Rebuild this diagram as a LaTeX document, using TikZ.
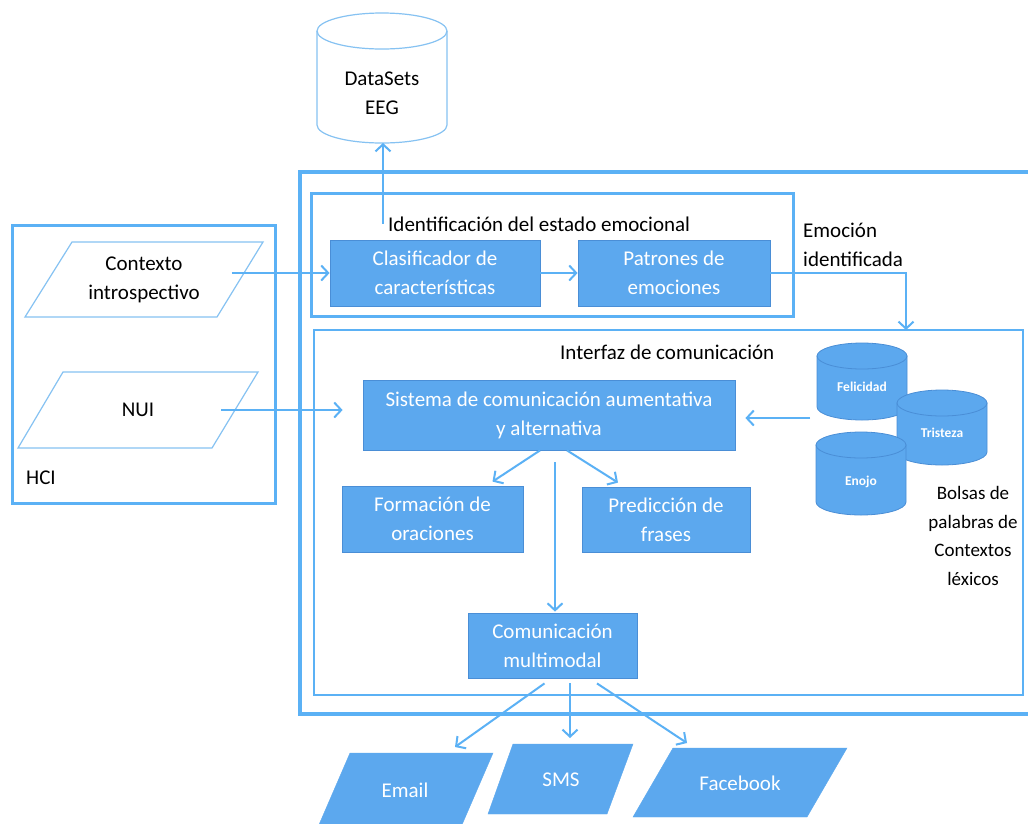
\documentclass[tikz,border=0pt]{standalone}
\usepackage{fontspec}
\setmainfont{Carlito}
\usetikzlibrary{arrows.meta}
\definecolor{azulmarco}{HTML}{5BB1F5}
\definecolor{azulcaja}{HTML}{5CA8EE}
\definecolor{azulborde}{HTML}{4A8ED6}
\definecolor{azulclaro}{HTML}{86C2F2}
\newcommand{\letra}{\fontsize{21}{29}\selectfont}
\tikzset{
  marco/.style   = {draw=azulmarco, line width=3pt},
  texto/.style   = {font=\letra, align=center, inner sep=0pt},
  caja/.style    = {draw=azulborde, fill=azulcaja, text=white, align=center,
                    inner sep=0pt, font=\letra, line width=0.8pt},
  entrada/.style = {draw=azulclaro, fill=white, line width=1.2pt},
  salida/.style  = {draw=azulcaja, fill=azulcaja},
  flecha/.style  = {-{Straight Barb[length=7pt, width=15pt]}, draw=azulmarco, line width=2pt}
}

\begin{document}
\begin{tikzpicture}[x=1pt, y=1pt]
  \fill[white] (0,0) rectangle (1028,-823);
  \useasboundingbox (0,0) rectangle (1028,-823);

  % marcos
  \draw[marco, line width=4pt] (1040,-172) -- (300,-172) -- (300,-714) -- (1040,-714);
  \draw[marco] (311,-193) rectangle (793,-316);
  \draw[marco, line width=2.2pt] (314,-330) rectangle (1023,-695);
  \draw[marco] (12,-225) rectangle (275,-503);

  \node[texto, anchor=base west] (tident) at (388,-231) {Identificación del estado emocional};
  \node[texto, anchor=base west] (tinter) at (560,-359) {Interfaz de comunicación};
  \node[texto, anchor=west, align=left] (temocion) at (803,-245) {Emoción\\identificada};
  \node[texto, anchor=west] (thci) at (26,-478) {HCI};
  \node[texto, font=\fontsize{19}{28.5}\selectfont] (tbolsas) at (973,-536) {Bolsas de\\palabras de\\Contextos\\léxicos};

  % base de datos EEG
  \draw[azulclaro, line width=1.2pt, fill=white] (317,-31) -- (317,-125)
    arc[start angle=180, end angle=360, x radius=65, y radius=18] -- (447,-31);
  \draw[azulclaro, line width=1.2pt] (382,-31) ellipse[x radius=65, y radius=18];
  \node[texto] (datos) at (382,-93) {DataSets\\EEG};
  \coordinate (datosbase) at (383,-143);

  % bolsas de palabras
  \foreach \cx/\ya/\yb/\ty/\nombre in {862/356/407/387/Felicidad, 942/403/452/433/Tristeza, 861/445/502/482/Enojo}{
    \filldraw[draw=azulborde, fill=azulcaja, line width=0.8pt] (\cx-45,-\ya) -- (\cx-45,-\yb)
      arc[start angle=180, end angle=360, x radius=45, y radius=13] -- (\cx+45,-\ya) -- cycle;
    \filldraw[draw=azulborde, fill=azulcaja, line width=0.8pt] (\cx,-\ya) ellipse[x radius=45, y radius=13];
    \node[text=white, font=\bfseries\fontsize{13.5}{16}\selectfont] (\nombre) at (\cx,-\ty) {\nombre};
  }
  \coordinate (bolsas) at (810,-418);

  % cajas
  \node[caja, minimum width=210pt, minimum height=66pt] (clasif) at (435,-273) {Clasificador de\\características};
  \node[caja, minimum width=192pt, minimum height=66pt] (patron) at (674,-273) {Patrones de\\emociones};
  \node[caja, minimum width=372pt, minimum height=70pt] (sistema) at (549,-415) {Sistema de comunicación aumentativa\\y alternativa};
  \node[caja, minimum width=181pt, minimum height=66pt] (oracion) at (432.5,-519) {Formación de\\oraciones};
  \node[caja, minimum width=168pt, minimum height=65pt] (frases) at (666,-519.5) {Predicción de\\frases};
  \node[caja, minimum width=169pt, minimum height=65pt] (multi) at (552.5,-645.5) {Comunicación\\multimodal};

  % entradas
  \draw[entrada] (72,-242) -- (263,-242) -- (217,-317) -- (25,-317) -- cycle;
  \draw[entrada] (63,-372) -- (258,-372) -- (212,-448) -- (18,-448) -- cycle;
  \node[texto] (contexto) at (144,-279.5) {Contexto\\introspectivo};
  \node[texto] (nui) at (138,-410) {NUI};

  % salidas
  \fill[salida] (350,-753) -- (493,-753) -- (461,-827) -- (318,-827) -- cycle;
  \fill[salida] (513,-744) -- (633,-744) -- (607,-814) -- (488,-814) -- cycle;
  \fill[salida] (673,-748) -- (847,-748) -- (807,-817) -- (633,-817) -- cycle;
  \node[texto, text=white] (email) at (405,-790) {Email};
  \node[texto, text=white] (sms) at (561,-780) {SMS};
  \node[texto, text=white] (face) at (740,-783) {Facebook};

  % flechas
  \coordinate (emocion) at (906,-330);
  \draw[flecha] ([xshift=-5pt]tident.west) -- (datosbase);
  \draw[flecha] ([xshift=32pt]contexto.east |- clasif.west) -- (clasif.west);
  \draw[flecha] (clasif) -- (patron);
  \draw[flecha] (patron.east) -| (emocion);
  \draw[flecha, shorten >=20pt] ([xshift=67pt]nui.east) -- (sistema.west |- nui.east);
  \draw[flecha, shorten >=10pt] (bolsas) -- (sistema.east |- bolsas);
  \draw[flecha] ([xshift=-9pt]sistema.south) -- ([xshift=60pt, yshift=4pt]oracion.north);
  \draw[flecha] ([xshift=18pt]sistema.south) -- ([xshift=-48pt, yshift=4pt]frases.north);
  \draw[flecha, shorten <=12pt] ([xshift=6pt]sistema.south) -- ([xshift=2.5pt, yshift=1pt]multi.north);
  \draw[flecha] ([xshift=-8pt, yshift=-5pt]multi.south) -- ([xshift=50pt, yshift=43pt]email.center);
  \draw[flecha] ([xshift=17.5pt, yshift=-5pt]multi.south) -- ([xshift=9pt, yshift=42pt]sms.center);
  \draw[flecha] ([xshift=44.5pt, yshift=-5pt]multi.south) -- ([xshift=-53pt, yshift=40pt]face.center);
\end{tikzpicture}
\end{document}
